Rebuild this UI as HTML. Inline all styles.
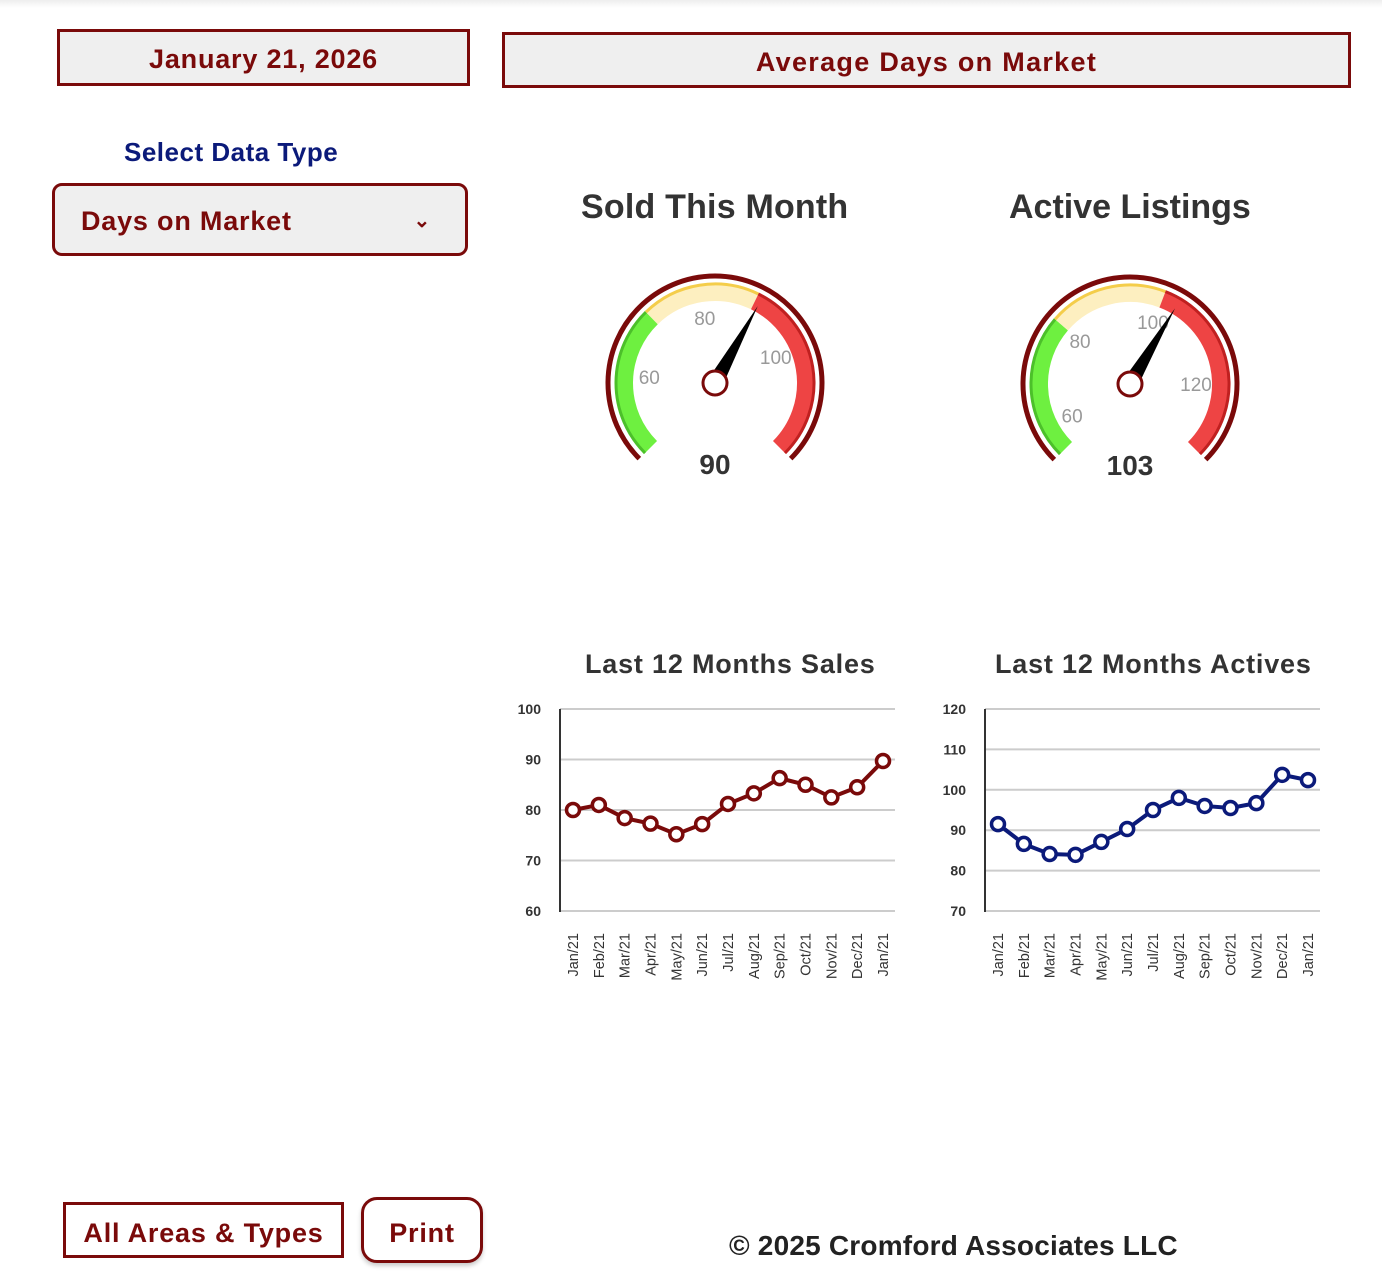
<!DOCTYPE html>
<html><head><meta charset="utf-8"><style>
html,body{margin:0;padding:0;background:#fff;width:1382px;height:1285px;overflow:hidden;font-family:"Liberation Sans",Arial,sans-serif;}
.box{position:absolute;box-sizing:border-box;border:3px solid #7a0a0a;background:#efefef;color:#7a0a0a;font-weight:bold;text-align:center;letter-spacing:0.8px;}
.t{position:absolute;font-weight:bold;}
</style></head><body>
<div style="position:absolute;left:0;top:0;width:1382px;height:8px;background:linear-gradient(#eee,#fff)"></div>
<div class="box" style="left:57px;top:29px;width:413px;height:57px;line-height:55px;font-size:27px">January 21, 2026</div>
<div class="box" style="left:502px;top:32px;width:849px;height:56px;line-height:54px;font-size:27px;letter-spacing:1.3px">Average Days on Market</div>
<div class="t" style="left:124px;top:137px;font-size:26px;color:#0b1a7a;letter-spacing:0.5px">Select Data Type</div>
<div class="box" style="left:52px;top:183px;width:416px;height:73px;border-radius:10px;text-align:left;padding-left:26px;line-height:70px;font-size:27px">Days on Market<span style="position:absolute;right:34px;top:0;font-size:20px">&#8964;</span></div>
<div class="t" style="left:581px;top:188px;font-size:34px;color:#333;letter-spacing:0.2px">Sold This Month</div>
<div class="t" style="left:1009px;top:188px;font-size:34px;color:#333">Active Listings</div>
<div class="t" style="left:585px;top:649px;font-size:27px;color:#333;letter-spacing:0.8px">Last 12 Months Sales</div>
<div class="t" style="left:995px;top:649px;font-size:27px;color:#333;letter-spacing:0.8px">Last 12 Months Actives</div>
<div class="box" style="left:63px;top:1202px;width:281px;height:56px;background:#fff;line-height:56px;font-size:27px">All Areas &amp; Types</div>
<div class="box" style="left:361px;top:1197px;width:122px;height:66px;background:#fff;border-radius:16px;line-height:66px;font-size:27px;box-shadow:0 3px 4px #ccc">Print</div>
<div class="t" style="left:729px;top:1230px;font-size:28px;color:#222;letter-spacing:0.2px">© 2025 Cromford Associates LLC</div>
<svg id="s" width="1382" height="1285" style="position:absolute;left:0;top:0"></svg>
<script>
const months=["Jan/21","Feb/21","Mar/21","Apr/21","May/21","Jun/21","Jul/21","Aug/21","Sep/21","Oct/21","Nov/21","Dec/21","Jan/21"];
const salesValues=[80.0,81.0,78.4,77.3,75.2,77.2,81.2,83.3,86.3,85.0,82.5,84.5,89.7];
const activeValues=[91.5,86.6,84.1,83.9,87.1,90.3,95.0,98.0,96.0,95.5,96.7,103.7,102.4];
const salesTicks=[60,70,80,90,100];
const activeTicks=[70,80,90,100,110,120];
const soldGaugeValue=90, activeGaugeValue=103;
const soldGaugeRange=[46.8,117.9], soldBands=[70.7,89.2], soldLabels=[60,80,100];
const activeGaugeRange=[55.3,133], activeBands=[80,100.2], activeLabels=[60,80,100,120];
const NS="http://www.w3.org/2000/svg", svg=document.getElementById('s');
function el(t,a,p){const e=document.createElementNS(NS,t);for(const k in a)e.setAttribute(k,a[k]);(p||svg).appendChild(e);return e;}
function lineChart(x0,x1,y0,y1,ticks,vals,color,name){
  const g=el('g',{});
  
  
  const mn=ticks[0],mx=ticks[ticks.length-1];
  const ys=v=>y1-(v-mn)/(mx-mn)*(y1-y0);
  const step=(x1-x0-25)/(vals.length-1);
  const xs=i=>x0+13+i*step;
  ticks.forEach(t=>{
    el('line',{x1:x0,x2:x1,y1:ys(t),y2:ys(t),stroke:'#ccc','stroke-width':2},g);
    const tx=el('text',{x:x0-19,y:ys(t)+5,'text-anchor':'end','font-size':14,'font-weight':'bold',fill:'#333'},g);tx.textContent=t;
    
    
  });
  el('line',{x1:x0,x2:x0,y1:y0,y2:y1+1,stroke:'#333','stroke-width':2},g);
  months.forEach((m,i)=>{const tx=el('text',{transform:`translate(${xs(i)+5},${y1+22}) rotate(-90)`,'text-anchor':'end','font-size':14.5,fill:'#333'},g);tx.textContent=m;
    
    });
  el('polyline',{points:vals.map((v,i)=>xs(i)+','+ys(v)).join(' '),fill:'none',stroke:color,'stroke-width':4},g);
  vals.forEach((v,i)=>{const c=el('circle',{cx:xs(i),cy:ys(v),r:6.5,fill:'#fff',stroke:color,'stroke-width':3.5},g);
    
    });
}
lineChart(560,895,709,911,salesTicks,salesValues,'#7a0a0a','sales-line-chart');
lineChart(985,1320,709,911,activeTicks,activeValues,'#0b1a7a','actives-line-chart');
function pt(cx,cy,r,a){const t=a*Math.PI/180;return [cx+r*Math.sin(t),cy-r*Math.cos(t)];}
function arc(cx,cy,r,a0,a1){const p=pt(cx,cy,r,a0),q=pt(cx,cy,r,a1);return `M${p[0]},${p[1]} A${r},${r} 0 ${a1-a0>180?1:0} 1 ${q[0]},${q[1]}`;}
function gauge(cx,cy,range,bands,labels,val,name){
  const g=el('g',{});
  
  
  const ang=v=>-135+(v-range[0])/(range[1]-range[0])*270;
  el('path',{d:arc(cx,cy,107,-135,135),fill:'none',stroke:'#7a0a0a','stroke-width':5},g);
  el('path',{d:arc(cx,cy,91,-135,ang(bands[0])),fill:'none',stroke:'#6ef040','stroke-width':18},g);
  el('path',{d:arc(cx,cy,99,-135,ang(bands[0])),fill:'none',stroke:'#4cc02a','stroke-width':3},g);
  el('path',{d:arc(cx,cy,91,ang(bands[0]),ang(bands[1])),fill:'none',stroke:'#fdefc0','stroke-width':18},g);
  el('path',{d:arc(cx,cy,99,ang(bands[0]),ang(bands[1])),fill:'none',stroke:'#f4cd4a','stroke-width':3},g);
  el('path',{d:arc(cx,cy,91,ang(bands[1]),135),fill:'none',stroke:'#ee4444','stroke-width':18},g);
  el('path',{d:arc(cx,cy,99,ang(bands[1]),135),fill:'none',stroke:'#c02020','stroke-width':3},g);
  labels.forEach(l=>{const p=pt(cx,cy,66,ang(l));const t=el('text',{x:p[0],y:p[1]+7,'text-anchor':'middle','font-size':19,fill:'#999'},g);t.textContent=l;
    
    });
  const a=ang(val),tip=pt(cx,cy,88,a),l=pt(cx,cy,8,a-90),r=pt(cx,cy,8,a+90);
  const n=el('polygon',{points:`${tip} ${l} ${r}`,fill:'#000'},g);
  
  
  el('circle',{cx:cx,cy:cy,r:12,fill:'#fff',stroke:'#7a0a0a','stroke-width':3},g);
  const v=el('text',{x:cx,y:cy+91,'text-anchor':'middle','font-size':28,'font-weight':'bold',fill:'#333'},g);v.textContent=val;
  
  
}
gauge(715,383,soldGaugeRange,soldBands,soldLabels,soldGaugeValue,'sold-gauge');
gauge(1130,384,activeGaugeRange,activeBands,activeLabels,activeGaugeValue,'active-gauge');
</script>
</body></html>
